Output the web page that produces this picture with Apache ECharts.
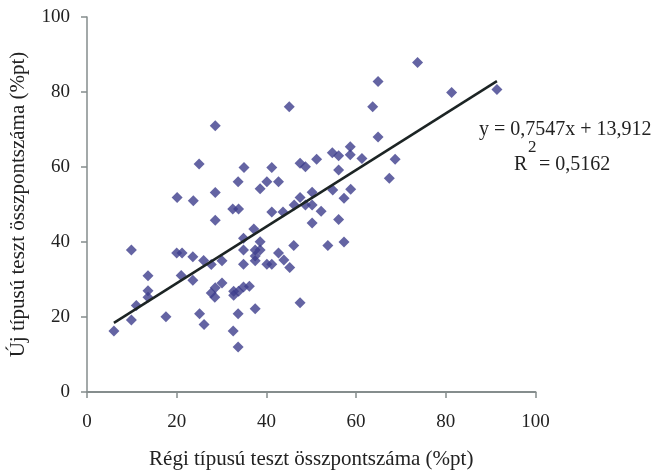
<!DOCTYPE html>
<html>
<head>
<meta charset="utf-8">
<script src="https://cdn.jsdelivr.net/npm/echarts@6/dist/echarts.min.js"></script>
<style>html,body{margin:0;padding:0;background:#fff}#c{width:661px;height:475px}</style>
</head>
<body>
<div id="c"></div>
<script>
// Old-type test total score (x, %pt)
const oldScores = [73.7,64.9,81.3,91.4,63.7,45.1,28.6,64.9,58.7,54.7,56.1,58.7,61.3,68.7,51.2,47.5,48.7,25.0,35.0,41.2,
  56.1,67.4,33.7,40.1,42.7,38.6,28.6,54.8,58.8,50.2,20.1,23.7,47.5,57.3,48.7,50.2,46.2,32.5,33.8,41.2,
  43.7,52.2,28.6,50.2,56.1,37.2,34.9,38.6,46.1,53.7,57.3,9.9,20.0,21.2,23.6,34.9,37.5,38.6,42.7,37.5,
  37.5,26.0,27.7,30.1,34.9,40.1,41.2,43.9,45.2,13.6,21.0,23.6,13.6,13.6,11.0,9.9,6.0,17.6,25.1,26.1,
  32.6,33.7,33.7,37.5,47.5,30.1,28.6,27.7,28.5,32.7,32.7,33.8,34.9,36.2];
// New-type test total score (y, %pt)
const newScores = [87.9,82.8,79.9,80.7,76.1,76.1,71.0,68.0,65.4,63.8,63.0,63.3,62.3,62.1,62.1,61.0,60.1,60.8,59.9,59.9,
  59.2,57.0,56.1,56.1,56.1,54.2,53.2,53.9,54.1,53.3,51.9,51.0,51.9,51.7,49.9,49.9,49.9,48.8,48.8,48.0,
  48.0,48.2,45.8,45.1,46.0,43.5,41.0,40.1,39.1,39.1,40.0,37.9,37.1,37.1,36.1,37.9,37.9,37.9,37.1,36.3,
  35.0,35.1,34.0,35.0,34.1,34.1,34.1,35.2,33.2,31.0,31.1,29.8,27.0,25.3,23.1,19.2,16.3,20.1,20.9,18.0,
  16.3,20.9,12.0,22.2,23.8,29.1,27.8,26.4,25.3,26.9,25.8,26.9,28.0,28.2];
// Linear trendline: y = slope*x + intercept
const slope = 0.7547;
const intercept = 13.912;
const rSquared = '0,5162';
const xTicks = [0, 20, 40, 60, 80, 100];
const yTicks = [0, 20, 40, 60, 80, 100];
const xTitle = 'Régi típusú teszt összpontszáma (%pt)';
const yTitle = 'Új típusú teszt összpontszáma (%pt)';

const points = oldScores.map((x, i) => [x, newScores[i]]);
const xMin = Math.min(...oldScores), xMax = Math.max(...oldScores);
const trend = [[xMin, slope * xMin + intercept], [xMax, slope * xMax + intercept]];

const font = 'Liberation Serif';
const axisCol = '#858d8d';
const txt = '#222';

const chart = echarts.init(document.getElementById('c'), null, {renderer: 'canvas'});
chart.setOption({
  animation: false,
  backgroundColor: '#fff',
  grid: {left: 86.5, top: 17, right: 125.5, bottom: 79, containLabel: false},
  xAxis: {
    type: 'value', min: xTicks[0], max: xTicks[xTicks.length - 1], interval: 20,
    name: xTitle, nameLocation: 'middle', nameGap: 57,
    nameTextStyle: {fontFamily: font, fontSize: 21, color: txt},
    axisLine: {show: true, lineStyle: {color: axisCol, width: 2}},
    axisTick: {show: true, inside: false, length: 6, lineStyle: {color: axisCol, width: 1.5}},
    axisLabel: {fontFamily: font, fontSize: 19, color: txt, margin: 21},
    splitLine: {show: false}
  },
  yAxis: {
    type: 'value', min: yTicks[0], max: yTicks[yTicks.length - 1], interval: 20,
    name: yTitle, nameLocation: 'middle', nameGap: 58,
    nameTextStyle: {fontFamily: font, fontSize: 21, color: txt},
    axisLine: {show: true, lineStyle: {color: axisCol, width: 1.5}},
    axisTick: {show: true, inside: false, length: 6, lineStyle: {color: axisCol, width: 1.5}},
    axisLabel: {fontFamily: font, fontSize: 19, color: txt, margin: 17},
    splitLine: {show: false}
  },
  series: [
    {
      type: 'scatter', data: points, symbol: 'diamond', symbolSize: 11,
      itemStyle: {color: '#3d3d8c'}, z: 2
    },
    {
      type: 'line', data: trend, showSymbol: false, symbol: 'none',
      lineStyle: {color: '#1c2424', width: 2.5}, z: 3
    }
  ],
  graphic: [
    {type: 'text', left: 479, top: 120, style: {text: 'y = 0,7547x + 13,912', font: '20px "Liberation Serif"', fill: txt}},
    {type: 'text', left: 514, top: 155, style: {text: 'R', font: '20px "Liberation Serif"', fill: txt}},
    {type: 'text', left: 528, top: 139, style: {text: '2', font: '17px "Liberation Serif"', fill: txt}},
    {type: 'text', left: 539, top: 155, style: {text: '= ' + rSquared, font: '20px "Liberation Serif"', fill: txt}}
  ]
});
</script>
</body>
</html>
